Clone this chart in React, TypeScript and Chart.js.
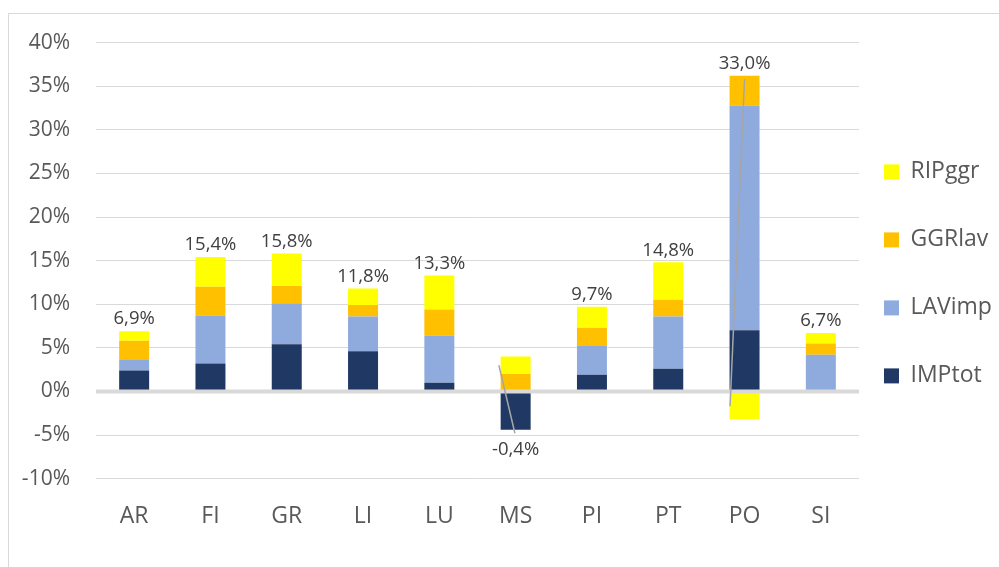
import React, { useEffect, useRef } from "react";
import { Chart, registerables } from "chart.js";

Chart.register(...registerables);

// ---- data (percentages) ----
const categories = ["AR", "FI", "GR", "LI", "LU", "MS", "PI", "PT", "PO", "SI"];
const impTot = [2.4, 3.2, 5.4, 4.6, 1.0, -4.4, 1.9, 2.6, 7.0, 0];
const lavImp = [1.2, 5.5, 4.7, 4.0, 5.4, 0, 3.3, 6.0, 25.8, 4.2];
const ggrLav = [2.2, 3.3, 2.0, 1.3, 3.0, 2.0, 2.1, 1.9, 3.4, 1.3];
const ripGgr = [1.1, 3.4, 3.7, 1.9, 3.9, 2.0, 2.4, 4.3, -3.2, 1.2];
const totalLabels = [6.9, 15.4, 15.8, 11.8, 13.3, -0.4, 9.7, 14.8, 33.0, 6.7];
const yMin = -10;
const yMax = 40;
const yStep = 5;
// leader lines of the moved total labels (x = category index, y = %)
const leaderLines = [
  [{ x: 4.78, y: 3.0 }, { x: 4.99, y: -4.8 }],
  [{ x: 8.0, y: 35.8 }, { x: 7.81, y: -1.7 }],
];

const FONT = "'Open Sans'";
const TEXT = "#595959";
const GRID = "#D9D9D9";

const legendPlace = {
  id: "legendPlace",
  afterLayout(chart: any) {
    const lg = chart.legend;
    const ca = chart.chartArea;
    if (!lg || !ca) return;
    const h = lg.bottom - lg.top;
    const P = lg.options.labels.padding;
    lg.left = ca.right + 25 - P;
    lg.right = chart.width;
    lg.width = lg.right - lg.left;
    const mid = (ca.top + ca.bottom) / 2 + 13.3;
    lg.top = mid - h / 2;
    lg.bottom = mid + h / 2;
  },
};

const overlay = {
  id: "overlay",
  afterDatasetDraw(chart: any, args: any) {
    if (args.index !== 0) return;
    const ctx = chart.ctx;
    const ca = chart.chartArea;
    const y0 = chart.scales.y.getPixelForValue(0);
    ctx.save();
    ctx.strokeStyle = GRID;
    ctx.lineWidth = 4;
    ctx.beginPath();
    ctx.moveTo(ca.left, y0);
    ctx.lineTo(ca.right, y0);
    ctx.stroke();
    ctx.restore();
  },
  afterDatasetsDraw(chart: any) {
    const ctx = chart.ctx;
    const xs = chart.scales.x;
    const ys = chart.scales.y;
    ctx.save();
    // leader lines
    ctx.strokeStyle = "#A6A6A6";
    ctx.lineWidth = 1.5;
    leaderLines.forEach((seg) => {
      ctx.beginPath();
      seg.forEach((p, k) => {
        const px = xs.getPixelForValue(p.x);
        const py = ys.getPixelForValue(p.y);
        if (k === 0) ctx.moveTo(px, py);
        else ctx.lineTo(px, py);
      });
      ctx.stroke();
    });
    // total labels
    ctx.font = `18.5px ${FONT}`;
    ctx.fillStyle = "#404040";
    ctx.textAlign = "center";
    ctx.textBaseline = "middle";
    categories.forEach((_, i) => {
      const vals = [impTot[i], lavImp[i], ggrLav[i], ripGgr[i]];
      const pos = vals.filter((v) => v > 0).reduce((a, b) => a + b, 0);
      const neg = vals.filter((v) => v < 0).reduce((a, b) => a + b, 0);
      const t = totalLabels[i];
      const px = xs.getPixelForValue(i);
      const py = t >= 0 ? ys.getPixelForValue(pos) - 12 : ys.getPixelForValue(neg) + 20;
      ctx.fillText(t.toFixed(1).replace(".", ",") + "%", px, py);
    });
    ctx.restore();
  },
};

export default function App() {
  const ref = useRef<HTMLCanvasElement>(null);
  useEffect(() => {
    const canvas = ref.current;
    if (!canvas) return;
    const barCommon = { barPercentage: 0.393, categoryPercentage: 1, borderWidth: 0, stack: "tot" };
    const chart = new Chart(canvas, {
      type: "bar",
      data: {
        labels: categories,
        datasets: [
          { label: "IMPtot", data: impTot, backgroundColor: "#203864", ...barCommon },
          { label: "LAVimp", data: lavImp, backgroundColor: "#8FAADC", ...barCommon },
          { label: "GGRlav", data: ggrLav, backgroundColor: "#FFC000", ...barCommon },
          { label: "RIPggr", data: ripGgr, backgroundColor: "#FFFF00", ...barCommon },
        ],
      },
      options: {
        animation: false,
        responsive: false,
        events: [],
        layout: { padding: { top: 28.6, bottom: 40, left: 0, right: 0 } },
        plugins: {
          tooltip: { enabled: false },
          title: { display: false },
          legend: {
            position: "right",
            fullSize: false,
            maxWidth: 140,
            reverse: true,
            labels: {
              boxWidth: 15,
              boxHeight: 15,
              padding: 45,
              color: TEXT,
              font: { family: FONT, size: 23 },
            },
          },
        },
        scales: {
          x: {
            stacked: true,
            grid: { display: false, drawTicks: true, tickLength: 20, tickColor: "rgba(0,0,0,0)" },
            border: { display: false },
            ticks: { padding: 3.8, color: TEXT, font: { family: FONT, size: 23 } },
            afterFit: (s: any) => {
              s.height = 48.4;
            },
          },
          y: {
            stacked: true,
            min: yMin,
            max: yMax,
            grid: { color: GRID, lineWidth: 1, drawTicks: true, tickLength: 20, tickColor: "rgba(0,0,0,0)" },
            border: { display: false },
            ticks: {
              stepSize: yStep,
              padding: 6,
              color: TEXT,
              font: { family: FONT, size: 21 },
              callback: (v: any) => v + "%",
            },
            afterFit: (s: any) => {
              s.width = 87;
            },
          },
        },
      } as any,
      plugins: [legendPlace, overlay],
    });
    return () => chart.destroy();
  }, []);
  return (
    <div
      style={{
        position: "fixed",
        left: 8,
        top: 13,
        width: 1010,
        height: 600,
        border: "1px solid #D9D9D9",
        background: "#fff",
      }}
    >
      <canvas ref={ref} width={990} height={553} style={{ display: "block", width: 990, height: 553 }} />
    </div>
  );
}
